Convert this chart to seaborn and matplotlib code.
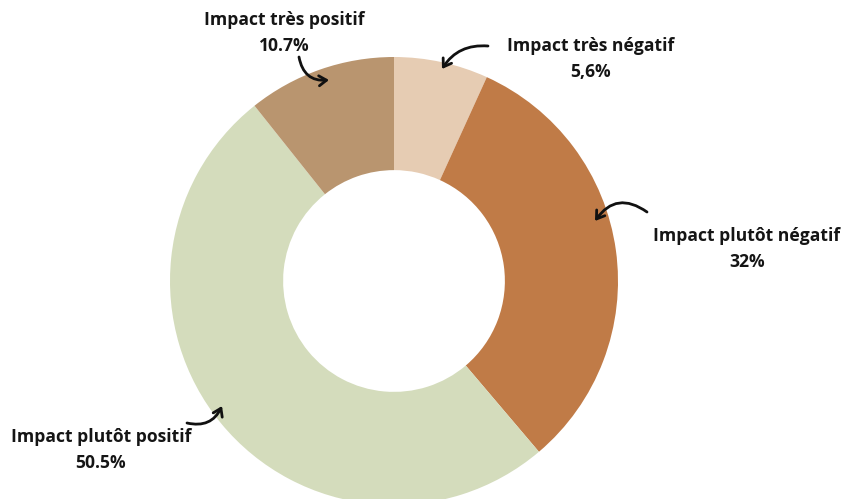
import matplotlib
matplotlib.use("Agg")
import matplotlib.pyplot as plt
import seaborn as sns

categories = ["Impact très négatif", "Impact plutôt négatif",
              "Impact plutôt positif", "Impact très positif"]
# shares as drawn in the picture (slice angles)
shares = [6.8, 32, 50.5, 10.7]
# percentages as printed in the labels
pct_labels = ["5,6%", "32%", "50.5%", "10.7%"]
colors = ["#E6CCB3", "#C07B47", "#D4DCBC", "#B9956F"]

sns.set_theme(style="white")
plt.rcParams["font.family"] = ["Open Sans", "DejaVu Sans"]

W, H = 845, 499
CX, CY, R = 394, 281, 224


def px(x, y):
    # pixel position in the image -> data coords (pie radius = 1)
    return (x - CX) / R, (CY - y) / R


fig = plt.figure(figsize=(W / 100, H / 100), dpi=100)
ax = fig.add_axes([0, 0, 1, 1])
ax.pie(shares, colors=sns.color_palette(colors), startangle=90, counterclock=False,
       radius=1, wedgeprops=dict(width=0.505, linewidth=0))
ax.set_xlim(-CX / R, (W - CX) / R)
ax.set_ylim((CY - H) / R, CY / R)
ax.set_aspect("equal")
ax.axis("off")

# label centre, arrow start, arrow end (pixels), arc curvature
label_layout = [
    ((591, 59), (488, 46), (442, 69), 0.3),
    ((747, 249), (647, 212), (595, 221), 0.5),
    ((101, 450), (187, 423), (222, 406), 0.4),
    ((284, 33), (299, 57), (329, 80), 0.45),
]

for name, pct, (lpos, a0, a1, rad) in zip(categories, pct_labels, label_layout):
    ax.text(*px(*lpos), f"{name}\n{pct}", ha="center", va="center",
            fontsize=12.6, fontweight="bold", color="#151515", linespacing=1.6)
    ax.annotate("", xy=px(*a1), xytext=px(*a0),
                arrowprops=dict(arrowstyle="->,head_length=0.45,head_width=0.3",
                                connectionstyle=f"arc3,rad={rad}",
                                color="#111111", lw=2, shrinkA=0, shrinkB=0))

fig.savefig("out.png", dpi=100)
